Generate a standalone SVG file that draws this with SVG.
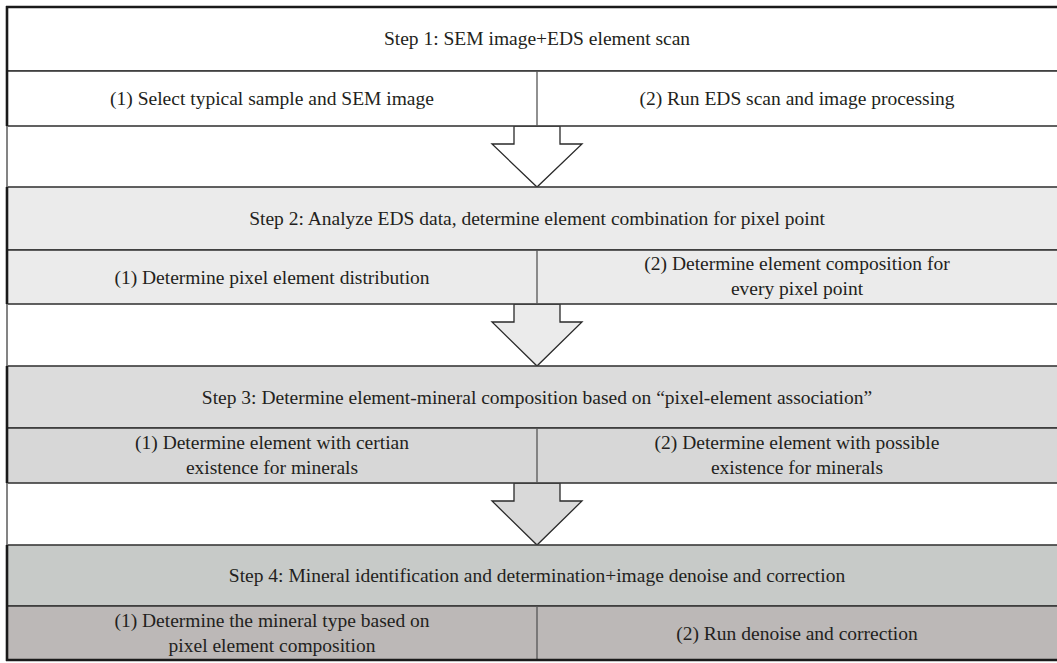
<svg xmlns="http://www.w3.org/2000/svg" width="1057" height="663" viewBox="0 0 1057 663">
<style>
  text { font-family: "Liberation Serif", "Times New Roman", serif; font-size: 19.5px; fill: #231f20; text-anchor: middle; }
  .box { stroke: #3a3a3a; stroke-width: 1.6; }
  .div { stroke: #555; stroke-width: 1.3; }
  .arrow { stroke: #2a2a2a; stroke-width: 1.3; stroke-linejoin: miter; }
  .edge { stroke: #1a1a1a; stroke-width: 2.6; }
  .gapedge { stroke: #777; stroke-width: 1.8; }
</style>
<rect x="0" y="0" width="1057" height="663" fill="#fff"/>

<g id="connectors">
  <polygon class="arrow" fill="#ffffff" points="514,126 514,144 492,144 537,187 582,144 560,144 560,126"/>
  <polygon class="arrow" fill="#ebebeb" points="514,304 514,322 492,322 537,366 582,322 560,322 560,304"/>
  <polygon class="arrow" fill="#d9d9d9" points="514,483 514,501 492,501 537,545 582,501 560,501 560,483"/>
</g>

<g id="step1">
  <rect class="box" x="7" y="7" width="1060" height="64" fill="#ffffff"/>
  <text x="537" y="45">Step 1: SEM image+EDS element scan</text>
</g>
<g id="step1-sub">
  <rect class="box" x="7" y="71" width="1060" height="55" fill="#ffffff"/>
  <line class="div" x1="537" y1="71" x2="537" y2="126"/>
  <text x="272" y="105">(1) Select typical sample and SEM image</text>
  <text x="797" y="105">(2) Run EDS scan and image processing</text>
</g>

<g id="step2">
  <rect class="box" x="7" y="187" width="1060" height="63" fill="#ebebeb"/>
  <text x="537" y="225">Step 2: Analyze EDS data, determine element combination for pixel point</text>
</g>
<g id="step2-sub">
  <rect class="box" x="7" y="250" width="1060" height="54" fill="#ebebeb"/>
  <line class="div" x1="537" y1="250" x2="537" y2="304"/>
  <text x="272" y="284">(1) Determine pixel element distribution</text>
  <text x="797" y="270">(2) Determine element composition for</text>
  <text x="797" y="295">every pixel point</text>
</g>

<g id="step3">
  <rect class="box" x="7" y="366" width="1060" height="62" fill="#dcdcdc"/>
  <text x="537" y="404">Step 3: Determine element-mineral composition based on “pixel-element association”</text>
</g>
<g id="step3-sub">
  <rect class="box" x="7" y="428" width="1060" height="55" fill="#d7d7d7"/>
  <line class="div" x1="537" y1="428" x2="537" y2="483"/>
  <text x="272" y="449">(1) Determine element with certian</text>
  <text x="272" y="474">existence for minerals</text>
  <text x="797" y="449">(2) Determine element with possible</text>
  <text x="797" y="474">existence for minerals</text>
</g>

<g id="step4">
  <rect class="box" x="7" y="545" width="1060" height="61" fill="#c7cac8"/>
  <text x="537" y="582">Step 4: Mineral identification and determination+image denoise and correction</text>
</g>
<g id="step4-sub">
  <rect class="box" x="7" y="606" width="1060" height="54" fill="#bcb8b7"/>
  <line class="div" x1="537" y1="606" x2="537" y2="660"/>
  <text x="272" y="627">(1) Determine the mineral type based on</text>
  <text x="272" y="652">pixel element composition</text>
  <text x="797" y="640">(2) Run denoise and correction</text>
</g>

<g id="frame">
  <line class="edge" x1="7" y1="6" x2="7" y2="126"/>
  <line class="gapedge" x1="7" y1="126" x2="7" y2="187"/>
  <line class="edge" x1="7" y1="187" x2="7" y2="304"/>
  <line class="gapedge" x1="7" y1="304" x2="7" y2="366"/>
  <line class="edge" x1="7" y1="366" x2="7" y2="483"/>
  <line class="gapedge" x1="7" y1="483" x2="7" y2="545"/>
  <line class="edge" x1="7" y1="545" x2="7" y2="661"/>
  <line class="edge" x1="6" y1="7" x2="1057" y2="7"/>
  <line class="edge" x1="6" y1="660" x2="1057" y2="660"/>
</g>
</svg>
